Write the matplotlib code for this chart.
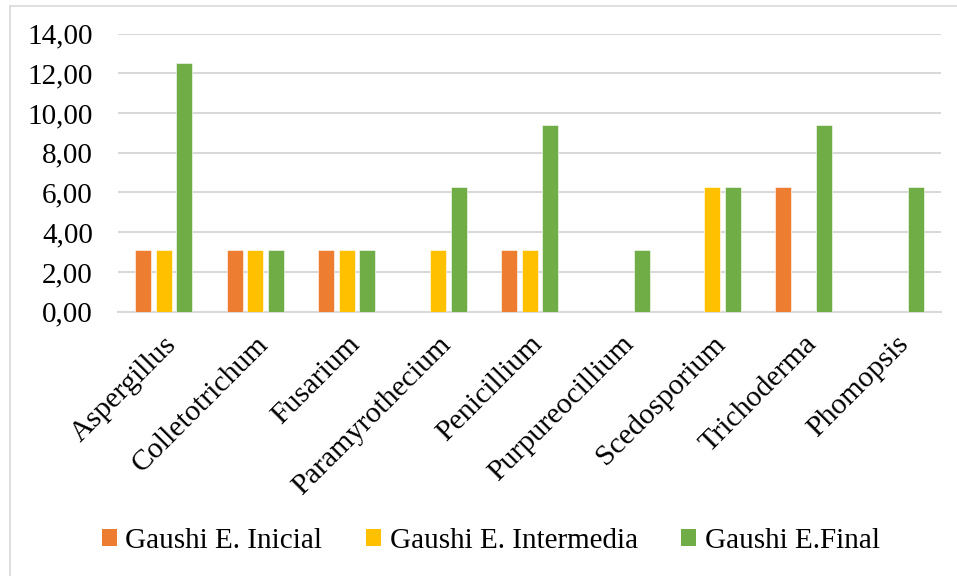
import matplotlib
matplotlib.use('Agg')
import matplotlib.pyplot as plt
import numpy as np
from matplotlib.lines import Line2D
from matplotlib.patches import Patch
from matplotlib.ticker import FuncFormatter, MultipleLocator

plt.rcParams['font.family'] = ['Liberation Serif', 'DejaVu Serif']

generos = ["Aspergillus", "Colletotrichum", "Fusarium", "Paramyrothecium",
           "Penicillium", "Purpureocillium", "Scedosporium", "Trichoderma",
           "Phomopsis"]
inicial = [3.125, 3.125, 3.125, 0, 3.125, 0, 0, 6.25, 0]
intermedia = [3.125, 3.125, 3.125, 3.125, 3.125, 0, 6.25, 0, 0]
final = [12.5, 3.125, 3.125, 6.25, 9.375, 3.125, 6.25, 9.375, 6.25]

series = [
    ("Gaushi E. Inicial", inicial, "#ED7D31"),
    ("Gaushi E. Intermedia", intermedia, "#FFC000"),
    ("Gaushi E.Final", final, "#70AD47"),
]

GRIS = "#d9d9d9"

fig = plt.figure(figsize=(9.57, 5.76), dpi=100)
ax = fig.add_axes([0.1233, 0.4589, 0.8600, 0.4829])

x = np.arange(len(generos))
largura = 0.175
passo = 0.225
for i, (nome, valores, cor) in enumerate(series):
    ax.bar(x + (i - 1) * passo, valores, largura, color=cor, label=nome,
           zorder=3, edgecolor="white", linewidth=0.4)

ax.set_xlim(-0.5, len(generos) - 0.5)
ax.set_ylim(0, 14)
ax.yaxis.set_major_locator(MultipleLocator(2))
ax.yaxis.set_major_formatter(FuncFormatter(lambda v, p: f"{v:.2f}".replace(".", ",")))
ax.grid(axis="y", color=GRIS, linewidth=1.5, zorder=0)
ax.set_axisbelow(True)

for lado in ["left", "right", "top"]:
    ax.spines[lado].set_visible(False)
ax.spines["bottom"].set_color(GRIS)
ax.spines["bottom"].set_linewidth(1.5)

ax.tick_params(axis="both", length=0)
ax.tick_params(axis="y", pad=18, labelsize=21)
ax.set_xticks(x)
ax.set_xticklabels(generos, rotation=45, ha="right", va="top",
                   rotation_mode="anchor", fontsize=21.5)
ax.tick_params(axis="x", pad=14)

# legenda com quadrados
handles = [Patch(facecolor=c, edgecolor="none", label=n) for n, _, c in series]
fig.legend(handles=handles, loc="center", bbox_to_anchor=(0.513, 0.0608),
           ncol=3, frameon=False, fontsize=21, handlelength=0.5,
           handleheight=0.5, handletextpad=0.3, columnspacing=1.5)

# moldura
fig.add_artist(Line2D([9.5 / 957, 9.5 / 957], [0, 1 - 5.5 / 576],
                      transform=fig.transFigure, color=GRIS, linewidth=1.2))
fig.add_artist(Line2D([9.5 / 957, 1], [1 - 5.5 / 576, 1 - 5.5 / 576],
                      transform=fig.transFigure, color=GRIS, linewidth=1.2))

fig.savefig("out.png", dpi=100)
